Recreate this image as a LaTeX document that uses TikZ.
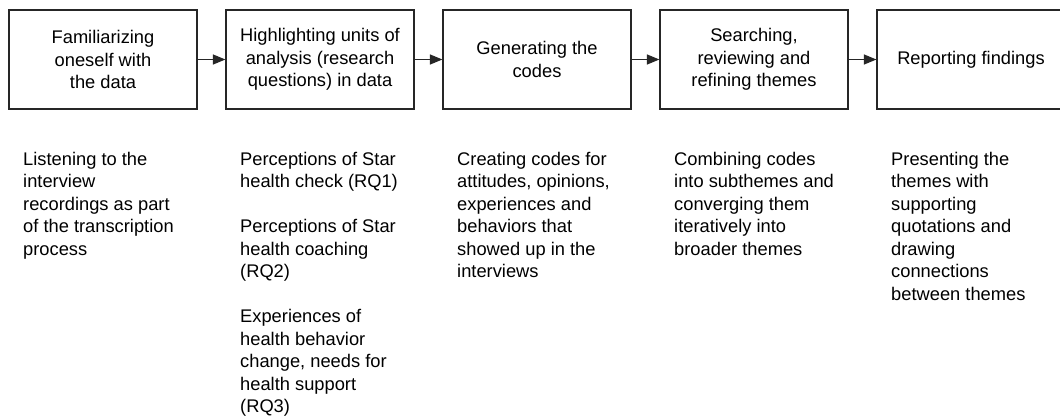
\documentclass[tikz,border=0pt]{standalone}
\usepackage{fontspec}
\setmainfont{Liberation Sans}
\usetikzlibrary{arrows.meta}
\begin{document}
\begin{tikzpicture}[x=1pt,y=-1pt,
  stage/.style={draw=black!85, line width=1.2pt, minimum width=188pt,
    minimum height=99pt, align=center, inner sep=0pt,
    font=\fontsize{18.3}{22.7}\selectfont},
  note/.style={anchor=north west, align=left, inner sep=0pt,
    font=\fontsize{18.3}{22.5}\selectfont},
  flow/.style={draw=black!85, line width=1.2pt,
    -{Triangle[length=12.5pt,width=10pt]}}]
\useasboundingbox (0,0) rectangle (1060,418);
\clip (0,0) rectangle (1060,418);
\fill[white] (0,0) rectangle (1060,418);

% process stages
\node[stage] (s1) at (103,59.5) {Familiarizing\\oneself with\\the data};
\node[stage] (s2) at (320,59.5) {Highlighting units of\\analysis (research\\questions) in data};
\node[stage] (s3) at (537,59.5) {Generating the\\codes};
\node[stage] (s4) at (754,59.5) {Searching,\\reviewing and\\refining themes};
\node[stage] (s5) at (971,59.5) {Reporting findings};

\draw[flow] (s1) -- (s2);
\draw[flow] (s2) -- (s3);
\draw[flow] (s3) -- (s4);
\draw[flow] (s4) -- (s5);

% descriptions under each stage
\node[note] (d1) at (23,152) {Listening to the\\interview\\recordings as part\\of the transcription\\process};
\node[note] (d2) at (240,152) {Perceptions of Star\\health check (RQ1)\\[22.5pt]Perceptions of Star\\health coaching\\(RQ2)\\[22.5pt]Experiences of\\health behavior\\change, needs for\\health support\\(RQ3)};
\node[note] (d3) at (457,152) {Creating codes for\\attitudes, opinions,\\experiences and\\behaviors that\\showed up in the\\interviews};
\node[note] (d4) at (674,152) {Combining codes\\into subthemes and\\converging them\\iteratively into\\broader themes};
\node[note] (d5) at (891,152) {Presenting the\\themes with\\supporting\\quotations and\\drawing\\connections\\between themes};
\end{tikzpicture}
\end{document}
